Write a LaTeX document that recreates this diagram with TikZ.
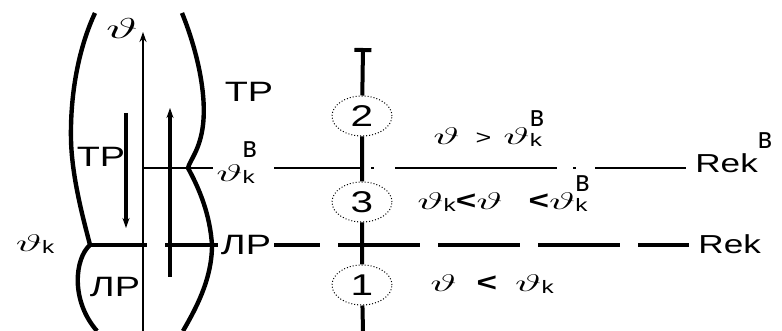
\documentclass[tikz,border=0pt]{standalone}
\usepackage{fontspec}
\setmainfont{Liberation Sans}[FakeStretch=1.35]
\usepackage{graphicx}
\usetikzlibrary{arrows.meta,shapes.geometric}

\newcommand{\tht}{\scalebox{1.9}[1]{$\vartheta$}}
\newcommand{\ksub}{\raisebox{-1pt}{\fontsize{9}{9}\selectfont k}}
\newcommand{\vsup}[1]{\raisebox{#1}{\scalebox{1}[1.5]{\fontsize{10}{10}\selectfont в}}}
\newcommand{\thk}{\tht\ksub}
\newcommand{\thkv}[1]{\tht\makebox[0pt][l]{\ksub}\vsup{#1}}
\newcommand{\lt}{{\bfseries\fontsize{13}{13}\selectfont <}}

\begin{document}
\begin{tikzpicture}[x=0.5pt,y=-0.5pt]
    \tikzset{
        outline/.style={line width=2.2pt},
        thinline/.style={line width=1pt},
        thickline/.style={line width=2.4pt},
        axisline/.style={line width=2pt},
        zone/.style={ellipse, draw, densely dotted, line width=0.5pt, fill=white,
            minimum width=30pt, minimum height=20pt, inner sep=0pt,
            font=\fontsize{15}{15}\selectfont},
        lbl/.style={inner sep=1.5pt, font=\fontsize{14}{14}\selectfont},
        cond/.style={inner sep=0pt, anchor=base west, font=\fontsize{12}{12}\selectfont},
        tip/.style={-{Stealth[length=5pt,width=3.5pt]}}
    }
    \useasboundingbox (0,0) rectangle (782,331);
    % borders of the zones
    \draw[outline] (95,13) .. controls (80,45) and (70,90) .. (71,140)
        .. controls (72,180) and (85,225) .. (90,245)
        .. controls (75,258) and (70,300) .. (97,331);
    \draw[outline] (182,13) .. controls (195,45) and (207,90) .. (203,125)
        .. controls (200,150) and (190,160) .. (188,168)
        .. controls (200,190) and (210,215) .. (212,245)
        .. controls (212,280) and (195,310) .. (183,331);

    % arrows
    \coordinate (thinbot) at (143,331);
    \coordinate (thintop) at (143,32);
    \coordinate (downtop) at (126,113);
    \coordinate (downbot) at (126,228);
    \coordinate (upbot) at (170,277);
    \coordinate (uptop) at (170,108);
    \draw[thinline,tip] (thinbot) -- (thintop);
    \draw[thickline,tip] (downtop) -- (downbot);
    \draw[thickline,tip] (upbot) -- (uptop);
    \node[lbl, font=\fontsize{15}{15}\selectfont] (thtop) at (122,29) {\tht};

    % labels
    \node[lbl] (trtop) at (249,92) {ТР};
    \node[lbl] (trleft) at (101,157) {ТР};
    \node[lbl] (lrleft) at (115,287) {ЛР};
    \node[lbl] (lrright) at (246,245) {ЛР};
    \node[lbl, font=\fontsize{12}{12}\selectfont] (thkleft) at (35,244) {\thk};
    \node[lbl, font=\fontsize{12}{12}\selectfont, anchor=base west] (thkv) at (213,182) {\thkv{12pt}};
    \node[lbl, font=\fontsize{13}{13}\selectfont, anchor=base west] (rekv) at (692,173) {Rek\vsup{12pt}};
    \node[lbl, font=\fontsize{13}{13}\selectfont, anchor=west] (rek) at (695,244) {Rek};

    % zones on the axis
    \coordinate (axtop) at (363,48);
    \coordinate (axbot) at (363,331);
    \node[zone] (z2) at (362,116) {2};
    \node[zone] (z3) at (362,202) {3};
    \node[zone] (z1) at (362,285) {1};
    \draw[axisline,{Bar[width=8.5pt]}-] (axtop) -- (z2);
    \draw[axisline] (z2) -- (z3) (z3) -- (z1) (z1) -- (axbot);

    % borders Rek
    \coordinate (thinmid) at (143,168);
    \coordinate (jleft) at (90,245);
    \coordinate (jthin) at (147,245);
    \coordinate (jthick) at (165,245);
    \draw[thinline] (thinmid) -- (thinmid -| thkv.west);
    \draw[thinline, shorten <=7pt, shorten >=3pt,
        dash pattern=on 43pt off 5.5pt on 1.5pt off 10.5pt on 81pt off 8pt on 1.5pt off 9.5pt on 50pt]
        (thinmid -| thkv.east) -- (thinmid -| rekv.west);
    \draw[axisline] (jleft) -- (jthin);
    \draw[axisline] (jthick) -- (lrright.west);
    \draw[line width=1.6pt, shorten >=3pt,
        dash pattern=on 23pt off 9pt on 41pt off 9pt on 41pt off 9pt on 41pt off 9pt on 30pt]
        (lrright.east) -- (lrright.east -| rek.west);

    % conditions
    \node[cond] (cond2) at (433,145) {\tht\hspace{8pt}{\fontsize{10}{10}\selectfont >}\hspace{6pt}\thkv{9pt}};
    \node[cond] (cond3) at (417,210) {\thk\lt\tht\hspace{13pt}\lt\thkv{9pt}};
    \node[cond] (cond1) at (430,292) {\tht\hspace{10pt}\lt\hspace{9pt}\thk};
\end{tikzpicture}
\end{document}
